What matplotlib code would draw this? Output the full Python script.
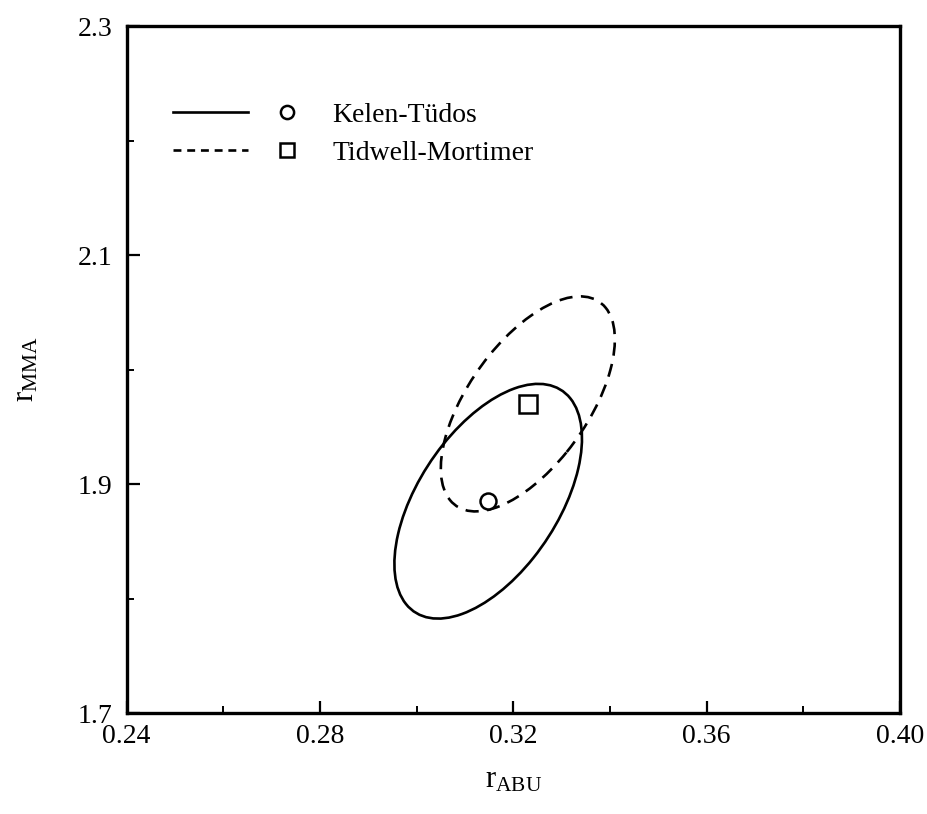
import numpy as np
import matplotlib
matplotlib.use("Agg")
import matplotlib.pyplot as plt
from matplotlib.patches import Ellipse
from matplotlib.lines import Line2D
from matplotlib.legend_handler import HandlerTuple
import matplotlib.transforms as transforms

plt.rcParams['font.family'] = ['Liberation Serif', 'DejaVu Serif']
plt.rcParams['mathtext.fontset'] = 'custom'
plt.rcParams['mathtext.rm'] = 'Liberation Serif'
plt.rcParams['mathtext.default'] = 'regular'

# ---- data ----
methods = ["Kelen-Tüdos", "Tidwell-Mortimer"]
r_abu = [0.3148, 0.3230]          # point estimates
r_mma = [1.885, 1.970]
sd_abu = [0.0194, 0.0180]         # half-extent of the confidence region in r_ABU
sd_mma = [0.1025, 0.0939]         # half-extent of the confidence region in r_MMA
corr = [0.535, 0.60]              # correlation of the joint confidence region
x_ticks = [0.24, 0.28, 0.32, 0.36, 0.40]
x_tick_labels = ["0.24", "0.28", "0.32", "0.36", "0.40"]
y_ticks = [1.7, 1.9, 2.1, 2.3]
y_tick_labels = ["1.7", "1.9", "2.1", "2.3"]

line_styles = ['-', (0, (5.0, 3.2))]
markers = ['o', 's']
marker_sizes = [11.5, 12.5]

fig = plt.figure(figsize=(9.27, 8.14), dpi=100)
ax = fig.add_axes([0.1365, 0.124, 0.8345, 0.844])


def conf_ellipse(ax, mx, my, sx, sy, rho, **kw):
    ell = Ellipse((0, 0), width=2 * np.sqrt(1 + rho), height=2 * np.sqrt(1 - rho),
                  facecolor='none', **kw)
    tr = transforms.Affine2D().rotate_deg(45).scale(sx, sy).translate(mx, my)
    ell.set_transform(tr + ax.transData)
    ax.add_patch(ell)
    return ell


for i in range(len(methods)):
    conf_ellipse(ax, r_abu[i], r_mma[i], sd_abu[i], sd_mma[i], corr[i],
                 edgecolor='black', linewidth=1.9, linestyle=line_styles[i])
    ax.plot([r_abu[i]], [r_mma[i]], linestyle='none', marker=markers[i],
            markersize=marker_sizes[i], markerfacecolor='white',
            markeredgecolor='black', markeredgewidth=1.8)

ax.set_xlim(0.24, 0.40)
ax.set_ylim(1.7, 2.3)
ax.set_xticks(x_ticks)
ax.set_xticklabels(x_tick_labels)
ax.set_yticks(y_ticks)
ax.set_yticklabels(y_tick_labels)
ax.set_xticks(np.arange(0.26, 0.40, 0.04), minor=True)
ax.set_yticks([1.8, 2.0, 2.2], minor=True)
ax.tick_params(axis='both', which='major', direction='in', length=9, width=1.6,
               labelsize=20, pad=8, top=False, right=False)
ax.tick_params(axis='both', which='minor', direction='in', length=5, width=1.4,
               top=False, right=False)
ax.tick_params(axis='y', which='major', pad=10)
for s in ax.spines.values():
    s.set_linewidth(2.4)

ax.set_xlabel(r'$r_{ABU}$', fontsize=22, labelpad=12)
ax.set_ylabel(r'$r_{MMA}$', fontsize=22, labelpad=27)

# legend
handles = []
for i in range(len(methods)):
    ln = Line2D([], [], color='black', linewidth=1.9,
                linestyle='-' if i == 0 else (0, (3.0, 2.2)))
    mk = Line2D([], [], linestyle='none', marker=markers[i], markersize=9.5,
                markerfacecolor='white', markeredgecolor='black', markeredgewidth=1.8)
    handles.append((ln, mk))
ax.legend(handles, methods, handler_map={tuple: HandlerTuple(ndivide=None, pad=0.05)},
          loc='upper left', bbox_to_anchor=(0.06, 0.889), frameon=False,
          fontsize=20, handlelength=5.45, handletextpad=0.3, labelspacing=0.45,
          borderpad=0, borderaxespad=0)

fig.savefig('out.png', dpi=100)
